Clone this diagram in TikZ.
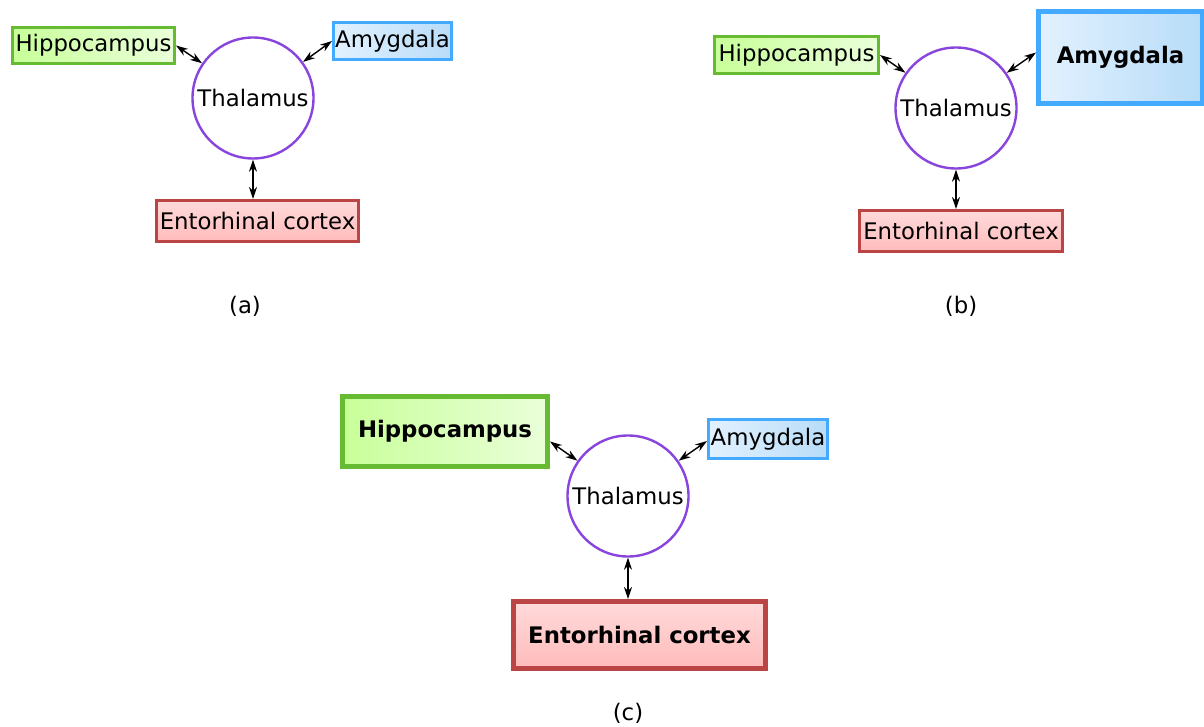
\documentclass[tikz,border=0pt]{standalone}
\usepackage{fontspec}
\setmainfont{DejaVu Sans}
\usetikzlibrary{arrows.meta,positioning}

\definecolor{hipline}{HTML}{66BB33}
\definecolor{hipleft}{HTML}{C8FF99}
\definecolor{hipright}{HTML}{EAFFDA}
\definecolor{amyline}{HTML}{44AAFF}
\definecolor{amyleft}{HTML}{E2F1FF}
\definecolor{amyright}{HTML}{B8DCF8}
\definecolor{entline}{HTML}{BB4444}
\definecolor{enttop}{HTML}{FFDADA}
\definecolor{entbottom}{HTML}{FFBBBB}
\definecolor{thalline}{HTML}{8844DD}

\tikzset{
  lbl/.style={font=\fontsize{11.4}{13.5}\selectfont},
  region/.style={lbl, draw, rectangle, inner sep=0pt, line width=1.5pt},
  big/.style={font=\fontsize{11.4}{13.5}\selectfont\bfseries, line width=2.5pt},
  hipbox/.style={region, draw=hipline, left color=hipleft, right color=hipright},
  amybox/.style={region, draw=amyline, left color=amyleft, right color=amyright},
  entbox/.style={region, draw=entline, top color=enttop, bottom color=entbottom},
  thalnode/.style={lbl, draw=thalline, circle, line width=1.2pt, minimum size=60.5pt, inner sep=0pt, fill=white},
  link/.style={{Stealth[length=6pt,width=4pt]}-{Stealth[length=6pt,width=4pt]}, line width=0.7pt},
}

\begin{document}
\begin{tikzpicture}[x=0.5pt, y=-0.5pt]

        % Frame
        \useasboundingbox (0,0) rectangle (1204,727);

        % Panel (a)
        \node[thalnode] (thalA) at (253,98) {Thalamus};
        \node[hipbox, minimum width=81pt, minimum height=18pt] (hipA) at (93.5,45.5) {Hippocampus};
        \node[amybox, minimum width=59pt, minimum height=18.5pt] (amyA) at (392.5,41) {Amygdala};
        \node[entbox, minimum width=101pt, minimum height=20.5pt] (entA) at (257.5,221) {Entorhinal cortex};
        \draw[link] (hipA.east) -- (thalA);
        \draw[link] (amyA.west) -- (thalA);
        \draw[link] (thalA.south) -- (thalA.south |- entA.north);
        \node[lbl] (capA) at (245,306) {(a)};

        % Panel (b)
        \node[thalnode] (thalB) at (956,108) {Thalamus};
        \node[hipbox, minimum width=82pt, minimum height=18.5pt] (hipB) at (796.5,55) {Hippocampus};
        \node[amybox, big, minimum width=82pt, minimum height=46pt] (amyB) at (1120.5,57.5) {Amygdala};
        \node[entbox, minimum width=101.5pt, minimum height=20.5pt] (entB) at (961,231) {Entorhinal cortex};
        \draw[link] (hipB.east) -- (thalB);
        \draw[link] ([yshift=2.5pt]amyB.west) -- (thalB);
        \draw[link] (thalB.south) -- (thalB.south |- entB.north);
        \node[lbl] (capB) at (961,306) {(b)};

        % Panel (c)
        \node[thalnode] (thalC) at (628,496) {Thalamus};
        \node[hipbox, big, minimum width=102.5pt, minimum height=35pt] (hipC) at (445,431.5) {Hippocampus};
        \node[amybox, minimum width=59.5pt, minimum height=19.5pt] (amyC) at (768,439) {Amygdala};
        \node[entbox, big, minimum width=126pt, minimum height=33.5pt] (entC) at (639.5,635) {Entorhinal cortex};
        \draw[link] ([yshift=-5pt]hipC.east) -- (thalC);
        \draw[link] ([yshift=-1pt]amyC.west) -- (thalC);
        \draw[link] (thalC.south) -- (thalC.south |- entC.north);
        \node[lbl] (capC) at (628,713) {(c)};

    \end{tikzpicture}
\end{document}
